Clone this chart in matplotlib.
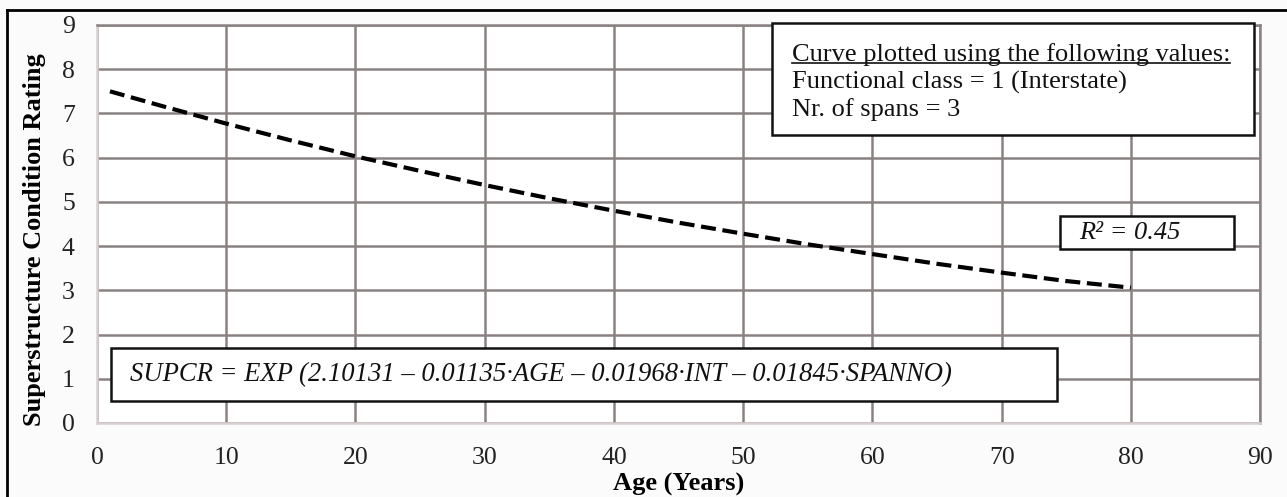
import matplotlib
matplotlib.use("Agg")
import matplotlib.pyplot as plt
from matplotlib.patches import Rectangle
from matplotlib.lines import Line2D

# Superstructure condition rating vs. bridge age
age = [1, 5, 10, 15, 20, 25, 30, 35, 40, 45, 50, 55, 60, 65, 70, 75, 80]
rating = [7.50, 7.17, 6.77, 6.39, 6.03, 5.70, 5.38, 5.08, 4.80, 4.53,
          4.28, 4.04, 3.82, 3.60, 3.40, 3.21, 3.06]

x_ticks = [0, 10, 20, 30, 40, 50, 60, 70, 80, 90]
y_ticks = [0, 1, 2, 3, 4, 5, 6, 7, 8, 9]

info_lines = ["Curve plotted using the following values:",
              "Functional class = 1 (Interstate)",
              "Nr. of spans = 3"]
r2_text = "R\u00b2 = 0.45"
equation = "SUPCR = EXP (2.10131 \u2013 0.01135\u00b7AGE \u2013 0.01968\u00b7INT \u2013 0.01845\u00b7SPANNO)"

plt.rcParams["font.family"] = ["Liberation Serif", "DejaVu Serif"]

fig = plt.figure(figsize=(12.87, 4.97), dpi=100)
fig.patch.set_facecolor("#fbfbfc")
ax = fig.add_axes([0.0754, 0.1489, 0.9037, 0.8008])
ax.set_facecolor("white")

grid_col = "#8a8282"
ax.set_xlim(0, 90)
ax.set_ylim(0, 9)
ax.set_xticks(x_ticks)
ax.set_yticks(y_ticks)
ax.grid(True, color=grid_col, linewidth=1.8)
ax.set_axisbelow(True)
for side in ["top", "right"]:
    ax.spines[side].set_color(grid_col)
    ax.spines[side].set_linewidth(1.8)
for side in ["left", "bottom"]:
    ax.spines[side].set_color("#d8d0d0")
    ax.spines[side].set_linewidth(1.8)
ax.tick_params(length=0, labelsize=18.5, colors="#222222")
ax.tick_params(axis="x", pad=17)
ax.tick_params(axis="y", pad=16)

ax.plot(age, rating, color="black", linewidth=3, linestyle=(0, (3.6, 1.6)))

ax.set_xlabel("Age (Years)", fontsize=19, fontweight="bold", labelpad=3)
ax.set_ylabel("Superstructure Condition Rating", fontsize=19, fontweight="bold")
ax.yaxis.set_label_coords(-0.044, 0.46)

# info box in the upper right
ax.add_patch(Rectangle((52.2, 6.52), 37.3, 2.53, facecolor="white",
                       edgecolor="#111111", linewidth=1.8, clip_on=False, zorder=4))
line_y = [8.33, 7.71, 7.08]
texts = []
for txt, yy in zip(info_lines, line_y):
    texts.append(ax.text(53.75, yy, txt, fontsize=19, va="center", ha="left",
                         color="#111111", zorder=5))

# underline the heading line
fig.canvas.draw()
renderer = fig.canvas.get_renderer()
bb = texts[0].get_window_extent(renderer)
inv = fig.transFigure.inverted()
(x0, y0), (x1, _) = inv.transform([(bb.x0, bb.y0 + 3), (bb.x1, bb.y0 + 3)])
fig.add_artist(Line2D([x0, x1], [y0, y0], color="#111111", linewidth=1.2, zorder=6))

# R-squared box
ax.add_patch(Rectangle((74.5, 3.94), 13.5, 0.74, facecolor="white",
                       edgecolor="#111111", linewidth=1.8, zorder=4))
ax.text(76.0, 4.30, r2_text, fontsize=19, style="italic", va="center", ha="left",
        color="#111111", zorder=5)

# regression equation box
ax.add_patch(Rectangle((1.08, 0.50), 73.2, 1.20, facecolor="white",
                       edgecolor="#111111", linewidth=1.8, zorder=4))
ax.text(2.55, 1.09, equation, fontsize=19.2, style="italic", va="center", ha="left",
        color="#111111", zorder=5)

# outer frame
fig.add_artist(Line2D([7 / 1287, 1.0], [1 - 10 / 497, 1 - 10 / 497], color="black", linewidth=2))
fig.add_artist(Line2D([7 / 1287, 7 / 1287], [0, 1 - 10 / 497], color="black", linewidth=2))

fig.savefig("out.png", dpi=100, facecolor=fig.get_facecolor())
